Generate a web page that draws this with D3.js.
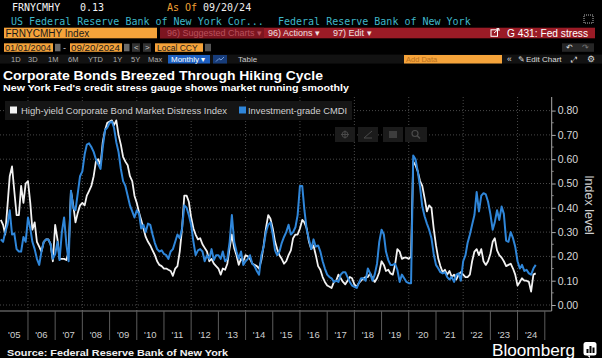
<!DOCTYPE html>
<html><head><meta charset="utf-8">
<script src="https://cdn.jsdelivr.net/npm/d3@7"></script>
<style>html,body{margin:0;padding:0;background:#000;overflow:hidden}</style>
</head><body><svg id="c" width="602" height="358"></svg>
<script>
// ---------- DATA (monthly, starting Jan 2005) ----------
const seriesStart = [2005, 0];
const hyValues = [
0.35,0.33,0.29,0.41,0.53,0.57,0.47,0.37,0.37,0.49,0.42,0.50,
0.51,0.42,0.31,0.34,0.26,0.24,0.22,0.26,0.27,0.27,0.25,0.18,
0.33,0.27,0.19,0.19,0.19,0.185,0.22,0.47,0.41,0.34,0.38,0.41,
0.42,0.41,0.45,0.47,0.49,0.53,0.59,0.60,0.575,0.67,0.72,0.75,
0.755,0.76,0.74,0.76,0.70,0.66,0.61,0.59,0.575,0.53,0.51,0.45,
0.42,0.38,0.35,0.315,0.28,0.26,0.245,0.225,0.205,0.18,0.165,0.16,
0.15,0.15,0.145,0.14,0.12,0.15,0.16,0.22,0.315,0.45,0.45,0.425,
0.36,0.315,0.29,0.27,0.275,0.25,0.235,0.22,0.18,0.19,0.17,0.16,
0.15,0.125,0.15,0.145,0.17,0.235,0.29,0.235,0.205,0.165,0.19,0.18,
0.205,0.20,0.19,0.17,0.165,0.16,0.15,0.185,0.245,0.315,0.37,0.355,
0.315,0.26,0.23,0.205,0.19,0.17,0.18,0.205,0.225,0.275,0.29,0.29,
0.315,0.35,0.34,0.315,0.26,0.23,0.245,0.205,0.16,0.145,0.115,0.095,
0.08,0.075,0.07,0.095,0.10,0.125,0.11,0.095,0.085,0.10,0.115,0.11,
0.085,0.075,0.09,0.10,0.11,0.115,0.115,0.13,0.11,0.095,0.11,0.135,
0.18,0.165,0.14,0.145,0.13,0.125,0.165,0.23,0.22,0.19,0.195,0.195,
0.19,0.20,0.59,0.575,0.55,0.51,0.49,0.44,0.385,0.41,0.40,0.315,
0.245,0.19,0.16,0.135,0.145,0.125,0.14,0.115,0.125,0.105,0.125,0.135,
0.125,0.115,0.115,0.125,0.18,0.22,0.23,0.205,0.23,0.18,0.165,0.18,
0.21,0.26,0.275,0.225,0.205,0.195,0.18,0.16,0.165,0.17,0.15,0.125,
0.08,0.095,0.11,0.10,0.10,0.095,0.055,0.125,0.13
];
const igValues = [
0.27,0.26,0.30,0.33,0.39,0.29,0.295,0.23,0.22,0.22,0.28,0.26,
0.36,0.315,0.26,0.23,0.19,0.165,0.22,0.26,0.27,0.27,0.25,0.19,
0.21,0.26,0.185,0.30,0.36,0.25,0.18,0.47,0.40,0.39,0.46,0.53,
0.55,0.62,0.66,0.665,0.65,0.63,0.60,0.58,0.56,0.65,0.72,0.73,
0.75,0.755,0.73,0.67,0.63,0.56,0.51,0.49,0.45,0.41,0.385,0.36,
0.39,0.375,0.315,0.33,0.30,0.335,0.33,0.29,0.255,0.23,0.22,0.225,
0.21,0.205,0.19,0.22,0.23,0.26,0.29,0.275,0.315,0.41,0.40,0.37,
0.33,0.26,0.205,0.225,0.23,0.22,0.18,0.205,0.19,0.23,0.185,0.205,
0.205,0.19,0.22,0.18,0.19,0.26,0.37,0.26,0.22,0.19,0.22,0.165,
0.18,0.19,0.205,0.17,0.16,0.14,0.125,0.205,0.24,0.30,0.33,0.34,
0.29,0.225,0.205,0.22,0.255,0.28,0.30,0.33,0.29,0.30,0.32,0.37,
0.49,0.49,0.39,0.31,0.27,0.23,0.27,0.24,0.245,0.22,0.18,0.15,
0.125,0.115,0.11,0.095,0.10,0.095,0.125,0.135,0.135,0.115,0.095,0.08,
0.075,0.07,0.09,0.11,0.11,0.10,0.15,0.13,0.10,0.125,0.17,0.26,
0.31,0.29,0.22,0.185,0.165,0.165,0.17,0.145,0.095,0.125,0.11,0.095,
0.09,0.09,0.615,0.60,0.55,0.485,0.405,0.365,0.335,0.31,0.275,0.21,
0.165,0.15,0.135,0.13,0.135,0.115,0.105,0.115,0.095,0.125,0.13,0.10,
0.18,0.205,0.255,0.29,0.33,0.37,0.465,0.385,0.45,0.46,0.455,0.425,
0.375,0.31,0.34,0.39,0.35,0.405,0.375,0.265,0.26,0.30,0.275,0.24,
0.18,0.15,0.165,0.14,0.145,0.13,0.125,0.15,0.165
];
const yTickValues = [0,0.1,0.2,0.3,0.4,0.5,0.6,0.7,0.8];
const yearLabels = ["'05","'06","'07","'08","'09","'10","'11","'12","'13","'14","'15","'16","'17","'18","'19","'20","'21","'22","'23","'24"];
const firstYear = 2005;
const seriesNames = ["High-yield Corporate Bond Market Distress Index","Investment-grade CMDI"];
const seriesColors = ["#f2f2f2","#2f86d9"];
const titleText = "Corporate Bonds Breezed Through Hiking Cycle";
const subtitleText = "New York Fed's credit stress gauge shows market running smoothly";
const sourceText = "Source: Federal Reserve Bank of New York";

// ---------- SETUP ----------
const svg = d3.select("#c");
svg.append("rect").attr("width",602).attr("height",358).attr("fill","#000");
const MONO = "'DejaVu Sans Mono', 'Liberation Mono', monospace";
const SANS = "'Liberation Sans', Arial, sans-serif";

function txt(x,y,s,opt={}) {
  const t = svg.append("text").attr("x",x).attr("y",y).text(s)
    .attr("font-family",opt.ff||SANS).attr("font-size",opt.fs||10)
    .attr("fill",opt.fill||"#fff").attr("font-weight",opt.fw||"normal");
  if (opt.anchor) t.attr("text-anchor",opt.anchor);
  if (opt.w) t.attr("textLength",opt.w).attr("lengthAdjust","spacingAndGlyphs");
  return t;
}
function box(x,y,w,h,fill){ return svg.append("rect").attr("x",x).attr("y",y).attr("width",w).attr("height",h).attr("fill",fill); }

// ---------- HEADER (terminal chrome) ----------
txt(12,10.5,"FRNYCMHY",{ff:MONO,fs:10,fill:"#f4f4f4"});
txt(80,10.5,"0.13",{ff:MONO,fs:10,fill:"#f4f4f4"});
txt(167,10.5,"As Of",{ff:MONO,fs:10,fill:"#f0a035"});
txt(203,10.5,"09/20/24",{ff:MONO,fs:10,fill:"#eeeeee"});
txt(11,24.5,"US Federal Reserve Bank of New York Cor...",{ff:MONO,fs:10,fill:"#3fb7c9"});
txt(278,24.5,"Federal Reserve Bank of New York",{ff:MONO,fs:10,fill:"#3fb7c9"});
svg.append("rect").attr("x",584).attr("y",15).attr("width",9).attr("height",8).attr("fill","none").attr("stroke","#bbb").attr("stroke-dasharray","1,1");

// row 3
box(4,27.7,153,10.6,"#f5a33a");
txt(5.5,36.5,"FRNYCMHY Index",{fs:10,fill:"#1a1a1a"});
box(160,27.7,435,10.6,"#9a1b26");
box(160,27.7,104,10.6,"#7c1520");
txt(167,36.3,"96) Suggested Charts ▾",{fs:9,fill:"#b9505c"});
txt(268,36.3,"96) Actions ▾",{fs:9,fill:"#f0e0e0"});
txt(333,36.3,"97) Edit ▾",{fs:9,fill:"#f0e0e0"});
svg.append("rect").attr("x",491).attr("y",29.8).attr("width",6.5).attr("height",6.5).attr("fill","none").attr("stroke","#fff").attr("stroke-width",1);
svg.append("path").attr("d","M494,33 L499,28.6 M496.5,28.6 L499,28.6 L499,31").attr("stroke","#fff").attr("fill","none").attr("stroke-width",1);
txt(507,36.6,"G 431: Fed stress",{fs:10,fill:"#fff",w:81});

// row 4
box(4,43.3,49,8.5,"#f5a33a"); txt(5,50.6,"01/01/2004",{fs:8.5,fill:"#1a1a1a",w:46});
box(55,43.8,5.5,7.5,"#6a6a6a");
txt(63,50.6,"-",{fs:9,fill:"#ccc"});
box(70,43.3,52,8.5,"#f5a33a"); txt(71,50.6,"09/20/2024",{fs:8.5,fill:"#1a1a1a",w:49});
box(124,43.8,5.5,7.5,"#6a6a6a");
box(132,43.3,8,8.5,"#333"); txt(134,50.4,"<",{fs:8,fill:"#ccc"});
box(143,43.3,8,8.5,"#333"); txt(145,50.4,">",{fs:8,fill:"#ccc"});
box(155,43.3,48,8.5,"#f5a33a"); txt(157,50.6,"Local CCY",{fs:8.5,fill:"#1a1a1a"});
box(205,43.8,6,7.5,"#555");
box(562,43.3,32,8.5,"#262626");
txt(566,50.4,"↶",{fs:8,fill:"#ddd"}); txt(582,50.4,"↷",{fs:8,fill:"#777"});

// row 5
box(0,54.6,602,9,"#121212");
[["1D",11],["3D",28],["1M",48],["6M",68],["YTD",88],["1Y",113],["5Y",131],["Max",148]].forEach(d=>txt(d[1],62,d[0],{fs:7.5,fill:"#b0b0b0"}));
box(168,55,42,8.5,"#1d5fc0"); txt(171,62.2,"Monthly ▾",{fs:8,fill:"#fff"});
box(213,55,14,8.5,"#173c7a");
svg.append("path").attr("d","M216,61.5 L219,58.5 L221,60 L224,57").attr("stroke","#8fb6f0").attr("fill","none").attr("stroke-width",0.8);
txt(238,62,"Table",{fs:8,fill:"#c8c8c8"});
box(404,55,98,8.5,"#f5a33a"); txt(406,62,"Add Data",{fs:7.5,fill:"#b87020"});
txt(507,62.2,"«",{fs:8.5,fill:"#ddd"});
txt(518,62.2,"✎",{fs:8,fill:"#ddd"});
txt(526,62.2,"Edit Chart",{fs:8,fill:"#ddd"});
txt(571,62.2,"⤢",{fs:8,fill:"#ddd"});
txt(587,62.4,"⚙",{fs:9,fill:"#ddd"});

// ---------- TITLES ----------
txt(3,80,titleText,{fs:13.5,fw:"bold",fill:"#fff",w:320});
txt(3,91,subtitleText,{fs:9.5,fw:"bold",fill:"#fff",w:346});

// ---------- SCALES ----------
const plotL=0, plotR=551.7, plotT=97, plotB=311;
const x = d3.scaleTime().domain([new Date(firstYear,0,1), new Date(2025,0,1)]).range([0.8,544.8]);
const y = d3.scaleLinear().domain([0,0.8]).range([305,110.6]);
const dates = hyValues.map((_,i)=>new Date(seriesStart[0], seriesStart[1]+i, 1));

// grid
const grid = svg.append("g");
grid.selectAll("line.h").data(yTickValues).join("line")
  .attr("x1",plotL).attr("x2",plotR).attr("y1",d=>y(d)).attr("y2",d=>y(d))
  .attr("stroke","#5a5a5a").attr("stroke-width",0.8).attr("stroke-dasharray","1,2");
const evenYears = d3.range(2006,2025,2).map(yr=>new Date(yr,0,1));
grid.selectAll("line.v").data(evenYears).join("line")
  .attr("x1",d=>x(d)).attr("x2",d=>x(d)).attr("y1",plotT).attr("y2",plotB)
  .attr("stroke","#5a5a5a").attr("stroke-width",0.8).attr("stroke-dasharray","1,2");

// legend box
box(5,101,347,19,"#151515");
box(10,106.5,7,7,seriesColors[0]);
txt(21,113.5,seriesNames[0],{fs:9.5,fill:"#d0d0d0",w:206});
box(239,106.5,7,7,seriesColors[1]);
txt(248,113.5,seriesNames[1],{fs:9.5,fill:"#d0d0d0",w:99});

// toolbar icons inside plot
[[335,20],[358,20],[383,20],[405,22]].forEach(d=>box(d[0],127,d[1],15,"#1b1b1b"));
svg.append("circle").attr("cx",345).attr("cy",134.5).attr("r",3).attr("fill","none").attr("stroke","#4a4a4a");
svg.append("path").attr("d","M341,134.5 H349 M345,130.5 V138.5").attr("stroke","#4a4a4a");
svg.append("path").attr("d","M364,138 L372,131 M364,138 H372").attr("stroke","#4a4a4a");
box(389,131,8,7,"#3d3d3d");
svg.append("circle").attr("cx",415).attr("cy",133.5).attr("r",3).attr("fill","none").attr("stroke","#4a4a4a").attr("stroke-width",1.2);
svg.append("path").attr("d","M417.2,135.7 L420,138.5").attr("stroke","#4a4a4a").attr("stroke-width",1.5);

// ---------- LINES ----------
svg.append("clipPath").attr("id","clip").append("rect").attr("x",plotL).attr("y",plotT).attr("width",plotR-plotL).attr("height",plotB-plotT);
const line = d3.line().x((d,i)=>x(dates[i])).y(d=>y(d)).curve(d3.curveLinear);
const lg = svg.append("g").attr("clip-path","url(#clip)");
lg.append("path").datum(hyValues).attr("d",line).attr("fill","none").attr("stroke",seriesColors[0]).attr("stroke-width",1.8).attr("stroke-linejoin","round");
lg.append("path").datum(igValues).attr("d",line).attr("fill","none").attr("stroke",seriesColors[1]).attr("stroke-width",2).attr("stroke-linejoin","round");

// ---------- Y AXIS (right) ----------
const yAxisG = svg.append("g").attr("transform",`translate(${plotR},0)`);
const yAx = d3.axisRight(y).tickValues(yTickValues).tickFormat(d3.format(".2f")).tickSize(4).tickPadding(2);
yAxisG.call(yAx);
yAxisG.select(".domain").remove();
yAxisG.append("line").attr("x1",0).attr("x2",0).attr("y1",plotT).attr("y2",plotB).attr("stroke","#aaa");
yAxisG.selectAll(".tick line").attr("stroke","#aaa");
yAxisG.selectAll(".tick text").attr("fill","#d8d8d8").attr("font-size",10.5).attr("font-family",SANS);
const minor = d3.range(0.05,0.85,0.1);
yAxisG.selectAll("line.minor").data(minor).join("line").attr("class","minor")
  .attr("x1",0).attr("x2",2).attr("y1",d=>y(d)).attr("y2",d=>y(d)).attr("stroke","#888");
svg.append("text").attr("transform","translate(585,205) rotate(90)").attr("text-anchor","middle")
  .attr("font-family",SANS).attr("font-size",12.5).attr("fill","#cfcfcf").text("Index level");

// ---------- X AXIS ----------
svg.append("line").attr("x1",0).attr("x2",plotR).attr("y1",plotB).attr("y2",plotB).attr("stroke","#888");
const sepYears = d3.range(2006,2026).map(yr=>new Date(yr,0,1));
svg.selectAll("line.sep").data(sepYears).join("line").attr("class","sep")
  .attr("x1",d=>x(d)).attr("x2",d=>x(d)).attr("y1",plotB).attr("y2",340).attr("stroke","#5c5c5c");
svg.selectAll("text.yl").data(yearLabels).join("text").attr("class","yl")
  .attr("x",(d,i)=>x(new Date(firstYear+i,6,1))).attr("y",338).attr("text-anchor","middle")
  .attr("font-family",SANS).attr("font-size",9.5).attr("fill","#cfcfcf").text(d=>d);

// ---------- FOOTER ----------
txt(7,355.5,sourceText,{fs:9.5,fw:"bold",fill:"#f0f0f0",w:221});
txt(492,355.5,"Bloomberg",{fs:17,fill:"#fff",w:83});
svg.append("rect").attr("x",583.5).attr("y",342).attr("width",13).attr("height",13.5).attr("rx",2.5).attr("fill","#fff");
[[586.5,349,2,4],[589.5,346,2,7],[592.5,347.5,2,5.5]].forEach(b=>box(b[0],b[1],b[2],b[3],"#000"));
svg.append("path").attr("d","M587,355.5 L590,358 L590,355.5").attr("fill","#fff");
</script></body></html>
